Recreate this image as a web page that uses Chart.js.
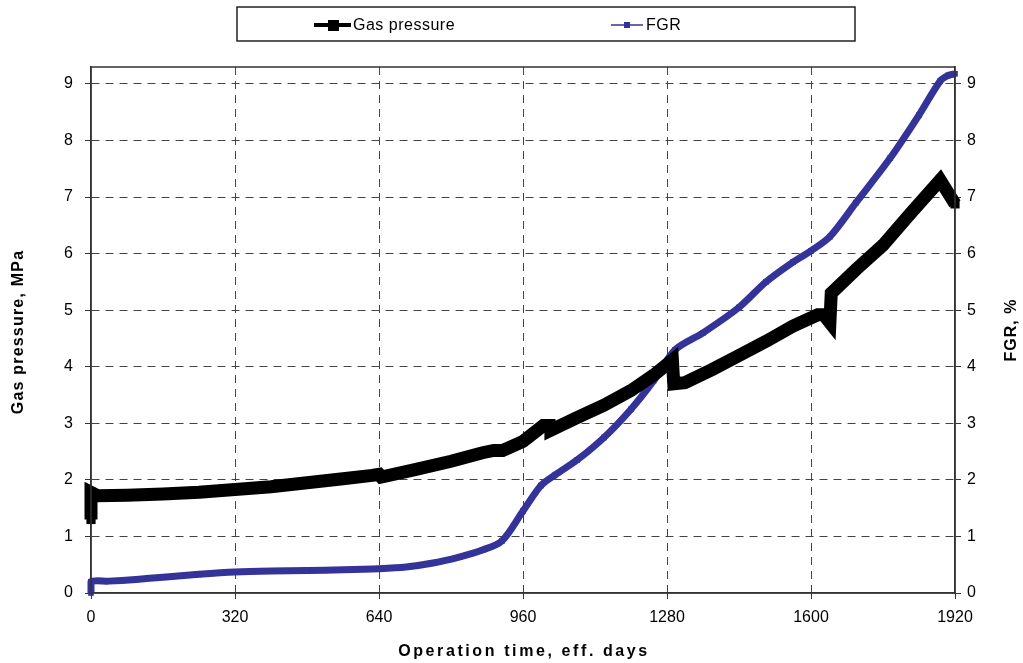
<!DOCTYPE html>
<html>
<head>
<meta charset="utf-8">
<script src="https://cdn.jsdelivr.net/npm/chart.js@4"></script>
<style>
  html, body { margin: 0; padding: 0; background: #fff; }
  #wrap { width: 1023px; height: 663px; position: relative; }
</style>
</head>
<body>
<div id="wrap"><canvas id="chart" width="1023" height="663"></canvas></div>
<script>
// values
const gasDays = [0, 0, 15, 80, 160, 240, 320, 400, 480, 560, 625, 640, 645, 720, 800, 870, 895, 915, 960, 1005, 1020, 1022, 1080, 1140, 1200, 1250, 1292, 1295, 1320, 1380, 1440, 1500, 1560, 1615, 1628, 1642, 1645, 1700, 1760, 1820, 1887, 1920];
const gasPressure = [1.3, 1.78, 1.72, 1.73, 1.75, 1.78, 1.83, 1.88, 1.95, 2.02, 2.08, 2.1, 2.05, 2.18, 2.33, 2.48, 2.52, 2.52, 2.68, 2.96, 2.96, 2.88, 3.1, 3.32, 3.58, 3.85, 4.12, 3.7, 3.72, 3.95, 4.2, 4.45, 4.72, 4.92, 4.92, 4.78, 5.3, 5.72, 6.15, 6.7, 7.3, 6.88];

const fgrDays = [0, 0, 40, 100, 160, 240, 320, 400, 480, 560, 640, 700, 760, 820, 870, 913, 960, 1000, 1030, 1080, 1140, 1200, 1250, 1298, 1360, 1440, 1500, 1560, 1600, 1642, 1700, 1776, 1840, 1887, 1905, 1920];
const fgrValues = [0, 0.2, 0.21, 0.24, 0.28, 0.33, 0.37, 0.39, 0.4, 0.41, 0.43, 0.46, 0.53, 0.64, 0.76, 0.92, 1.45, 1.9, 2.08, 2.35, 2.75, 3.25, 3.75, 4.3, 4.6, 5.05, 5.5, 5.85, 6.05, 6.3, 6.9, 7.69, 8.45, 9.05, 9.15, 9.18];

const xTicks = [0, 320, 640, 960, 1280, 1600, 1920];
const yTicks = [0, 1, 2, 3, 4, 5, 6, 7, 8, 9];

const FONT = "'Liberation Sans', Arial, sans-serif";
const AXIS = "#333";

const zip = (xs, ys) => xs.map((x, i) => ({ x: x, y: ys[i] }));
const keepTicks = (list) => (axis) => {
    axis.ticks = list.map((v) => ({ value: v }));
};
const plain = (v) => String(v);

// legend box, plot frame and axis titles
const extras = {
    id: "extras",
    afterDraw(chart) {
        const ctx = chart.ctx;
        const a = chart.chartArea;
        ctx.save();

        // frame around the plot
        ctx.strokeStyle = AXIS;
        ctx.lineWidth = 1.5;
        ctx.strokeRect(a.left, a.top, a.right - a.left, a.bottom - a.top);

        // legend
        ctx.lineWidth = 1.5;
        ctx.strokeStyle = "#222";
        ctx.strokeRect(237, 7, 618, 34);
        ctx.font = "16px " + FONT;
        ctx.fillStyle = "#000";
        ctx.textBaseline = "middle";
        ctx.letterSpacing = "0.5px";

        ctx.strokeStyle = "#000";
        ctx.lineWidth = 4;
        ctx.beginPath();
        ctx.moveTo(314, 25);
        ctx.lineTo(351, 25);
        ctx.stroke();
        ctx.fillRect(328, 20, 11, 11);
        ctx.fillText(chart.data.datasets[0].label, 353, 26);

        ctx.strokeStyle = "#333399";
        ctx.lineWidth = 1.5;
        ctx.beginPath();
        ctx.moveTo(611, 25);
        ctx.lineTo(643, 25);
        ctx.stroke();
        ctx.fillStyle = "#333399";
        ctx.fillRect(624, 22, 6, 6);
        ctx.fillStyle = "#000";
        ctx.fillText(chart.data.datasets[1].label, 646, 26);

        // axis titles
        ctx.font = "bold 16px " + FONT;
        ctx.textAlign = "center";
        ctx.letterSpacing = "2.6px";
        ctx.fillText("Operation time, eff. days", 524, 652);

        ctx.letterSpacing = "1.2px";
        ctx.translate(19, 332);
        ctx.rotate(-Math.PI / 2);
        ctx.fillText("Gas pressure, MPa", 0, 0);
        ctx.restore();

        ctx.save();
        ctx.font = "bold 16px " + FONT;
        ctx.fillStyle = "#000";
        ctx.textAlign = "center";
        ctx.textBaseline = "middle";
        ctx.letterSpacing = "1px";
        ctx.translate(1012, 330);
        ctx.rotate(-Math.PI / 2);
        ctx.fillText("FGR, %", 0, 0);
        ctx.restore();
    },
};

new Chart(document.getElementById("chart"), {
    type: "line",
    data: {
        datasets: [
            {
                label: "Gas pressure",
                data: zip(gasDays, gasPressure),
                yAxisID: "y",
                borderColor: "#000",
                backgroundColor: "#000",
                borderWidth: 13,
                borderJoinStyle: "miter",
                pointStyle: "rect",
                pointRadius: 6.5,
                pointBorderWidth: 0,
                tension: 0,
                clip: false,
            },
            {
                label: "FGR",
                data: zip(fgrDays, fgrValues),
                yAxisID: "y2",
                borderColor: "#333399",
                backgroundColor: "#333399",
                borderWidth: 7,
                borderJoinStyle: "round",
                pointStyle: "rect",
                pointRadius: 4,
                pointBorderWidth: 0,
                tension: 0.3,
                clip: false,
            },
        ],
    },
    options: {
        responsive: false,
        animation: false,
        devicePixelRatio: 1,
        layout: { padding: { top: 67 } },
        plugins: {
            legend: { display: false },
            tooltip: { enabled: false },
        },
        scales: {
            x: {
                type: "linear",
                min: 0,
                max: 1920,
                afterBuildTicks: keepTicks(xTicks),
                afterFit: (axis) => { axis.height = 70; },
                grid: {
                    color: (c) => (c.tick.value === 0 || c.tick.value === 1920 ? "rgba(0,0,0,0)" : "#444"),
                    tickColor: AXIS,
                    tickLength: 6,
                },
                border: { color: AXIS, width: 1.5, dash: [8, 6] },
                ticks: { color: "#000", font: { family: FONT, size: 16 }, padding: 9, maxRotation: 0, callback: plain },
            },
            y: {
                position: "left",
                min: 0,
                max: 9.3,
                afterBuildTicks: keepTicks(yTicks),
                afterFit: (axis) => { axis.width = 91; },
                grid: {
                    color: (c) => (c.tick.value === 0 ? "rgba(0,0,0,0)" : "#444"),
                    tickColor: AXIS,
                    tickLength: 6,
                },
                border: { color: AXIS, width: 1.5, dash: [8, 6] },
                ticks: { color: "#000", font: { family: FONT, size: 16 }, padding: 12, callback: plain },
            },
            y2: {
                position: "right",
                min: 0,
                max: 9.3,
                afterBuildTicks: keepTicks(yTicks),
                afterFit: (axis) => { axis.width = 68; },
                grid: { drawOnChartArea: false, color: AXIS, tickLength: 6 },
                border: { color: AXIS, width: 1.5 },
                ticks: { color: "#000", font: { family: FONT, size: 16 }, padding: 6, callback: plain },
            },
        },
    },
    plugins: [extras],
});
</script>
</body>
</html>
